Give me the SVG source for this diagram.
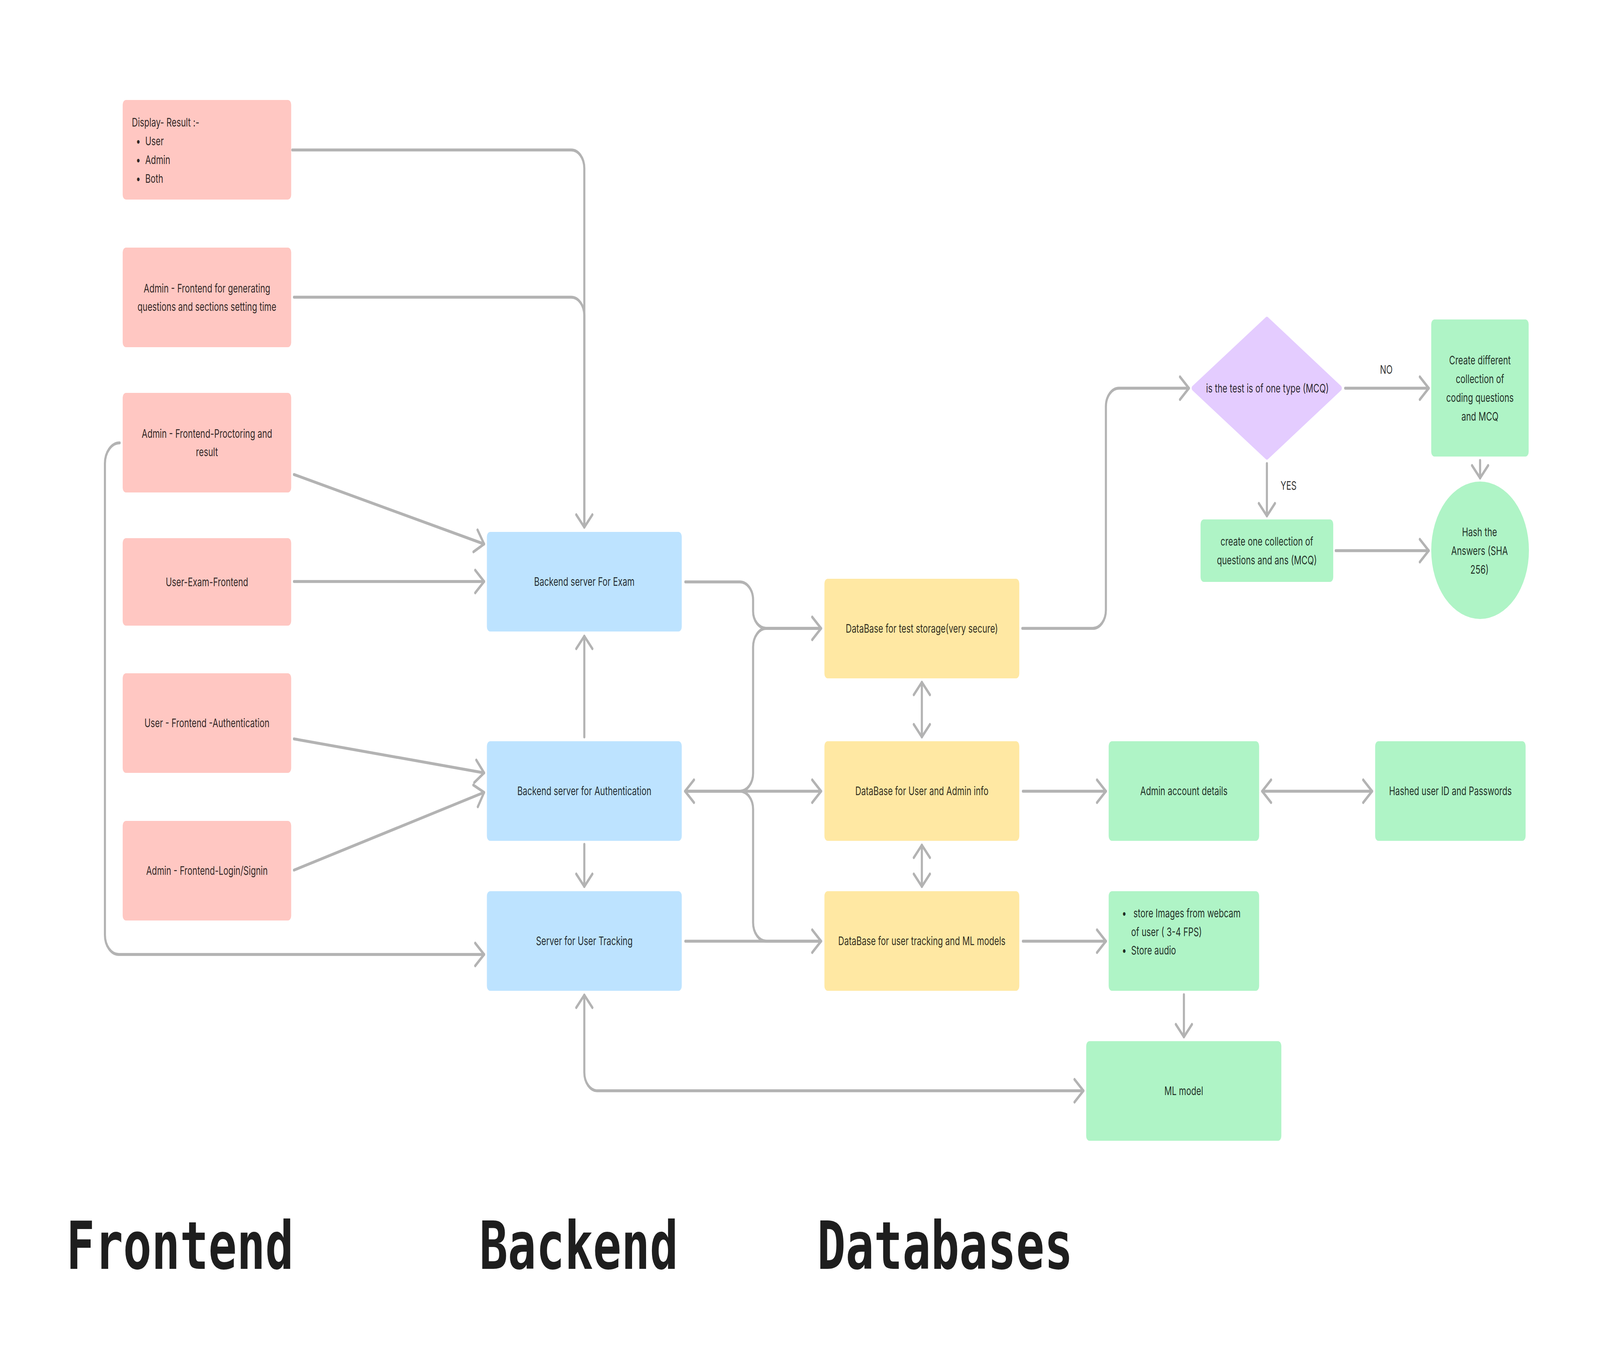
<svg xmlns="http://www.w3.org/2000/svg" width="5764" height="3508" viewBox="0 0 5764 3508" preserveAspectRatio="none" style="width:100vw;height:100vh;display:block">
<style>
.fe{fill:#FFC7C2}
.be{fill:#BDE3FF}
.db{fill:#FFE8A3}
.gr{fill:#AFF4C6}
.vi{fill:#E4CCFF;stroke:#E4CCFF;stroke-width:14;stroke-linejoin:round}
.t{font-family:Inter,"Noto Sans","Liberation Sans",sans-serif;font-size:30px;fill:#000000;fill-opacity:0.82}
.c{text-anchor:middle}
.title{font-family:"DejaVu Sans Mono","Liberation Mono",monospace;font-weight:bold;font-size:170px;fill:#1E1E1E}
.ln{fill:none;stroke:#B3B3B3;stroke-width:7.5;stroke-linecap:round;stroke-linejoin:round}
</style>
<defs>
<marker id="ah" viewBox="-45 -40 55 80" refX="0" refY="0" markerWidth="55" markerHeight="80" markerUnits="userSpaceOnUse" orient="auto-start-reverse">
<path d="M-32,-29 L0,0 L-32,29" fill="none" stroke="#B3B3B3" stroke-width="7.5" stroke-linecap="round" stroke-linejoin="round"/>
</marker>
</defs>
<rect width="5764" height="3508" fill="#FFFFFF"/>

<g id="connectors" class="ln">
<path d="M1053,384 H2058 A47,47 0 0 1 2105,431 V1350" marker-end="url(#ah)"/>
<path d="M1059,761 H2058 A47,47 0 0 1 2105,808 V1340"/>
<path d="M1059,1215 L1744,1393" marker-end="url(#ah)"/>
<path d="M1059,1489 H1744" marker-end="url(#ah)"/>
<path d="M1059,1892 L1744,1979" marker-end="url(#ah)"/>
<path d="M1059,2228 L1744,2029" marker-end="url(#ah)"/>
<path d="M431,1134 A53,53 0 0 0 378,1187 V2394 A50,50 0 0 0 428,2444 H1744" marker-end="url(#ah)"/>
<path d="M2105,1887 V1629" marker-end="url(#ah)"/>
<path d="M2105,2162 V2270" marker-end="url(#ah)"/>
<path d="M3903,2793 H2152 A47,47 0 0 1 2105,2746 V2548" marker-start="url(#ah)" marker-end="url(#ah)"/>
<path d="M2469,1490 H2665 A48,46 0 0 1 2713,1536 V1565 A48,44 0 0 0 2761,1609 H2958" marker-end="url(#ah)"/>
<path d="M2469,2026 H2665 A48,46 0 0 0 2713,1980 V1657 A48,48 0 0 1 2761,1609 H2950"/>
<path d="M2468,2026 H2958" marker-start="url(#ah)" marker-end="url(#ah)"/>
<path d="M2469,2026 H2665 A48,46 0 0 1 2713,2072 V2362 A48,48 0 0 0 2761,2410 H2950"/>
<path d="M2469,2410 H2958" marker-end="url(#ah)"/>
<path d="M3321,1747 V1887" marker-start="url(#ah)" marker-end="url(#ah)"/>
<path d="M3321,2164 V2270" marker-start="url(#ah)" marker-end="url(#ah)"/>
<path d="M3683,1609 H3937 A47,47 0 0 0 3984,1562 V1041 A47,47 0 0 1 4031,994 H4283" marker-end="url(#ah)"/>
<path d="M4846,994 H5147" marker-end="url(#ah)"/>
<path d="M4564,1187 V1321" marker-end="url(#ah)"/>
<path d="M5332,1179 V1224" marker-end="url(#ah)"/>
<path d="M4812,1410 H5147" marker-end="url(#ah)"/>
<path d="M3685,2026 H3984" marker-end="url(#ah)"/>
<path d="M4547,2026 H4943" marker-start="url(#ah)" marker-end="url(#ah)"/>
<path d="M3685,2410 H3984" marker-end="url(#ah)"/>
<path d="M4265,2547 V2655" marker-end="url(#ah)"/>
</g>

<g id="label-no"><text class="t c" x="4994" y="957">NO</text></g>
<g id="label-yes"><text class="t c" x="4642" y="1254">YES</text></g>

<g id="fe-display">
<rect class="fe" x="442" y="256" width="607" height="255" rx="12"/>
<text class="t" x="475" y="324">Display- Result :-</text>
<text class="t c" x="498" y="372">•</text><text class="t" x="523" y="372">User</text>
<text class="t c" x="498" y="420">•</text><text class="t" x="523" y="420">Admin</text>
<text class="t c" x="498" y="468">•</text><text class="t" x="523" y="468">Both</text>
</g>
<g id="fe-generate">
<rect class="fe" x="442" y="634" width="607" height="255" rx="12"/>
<text class="t c" x="745.5" y="749">Admin - Frontend for generating</text>
<text class="t c" x="745.5" y="796">questions and sections setting time</text>
</g>
<g id="fe-proctoring">
<rect class="fe" x="442" y="1006" width="607" height="255" rx="12"/>
<text class="t c" x="745.5" y="1121">Admin - Frontend-Proctoring and</text>
<text class="t c" x="745.5" y="1168">result</text>
</g>
<g id="fe-user-exam">
<rect class="fe" x="442" y="1378" width="607" height="224" rx="12"/>
<text class="t c" x="745.5" y="1501">User-Exam-Frontend</text>
</g>
<g id="fe-user-auth">
<rect class="fe" x="442" y="1724" width="607" height="255" rx="12"/>
<text class="t c" x="745.5" y="1862">User - Frontend -Authentication</text>
</g>
<g id="fe-admin-login">
<rect class="fe" x="442" y="2102" width="607" height="255" rx="12"/>
<text class="t c" x="745.5" y="2240">Admin - Frontend-Login/Signin</text>
</g>

<g id="be-exam">
<rect class="be" x="1754" y="1362" width="702" height="255" rx="12"/>
<text class="t c" x="2105" y="1500">Backend server For Exam</text>
</g>
<g id="be-auth">
<rect class="be" x="1754" y="1898" width="702" height="255" rx="12"/>
<text class="t c" x="2105" y="2036">Backend server for Authentication</text>
</g>
<g id="be-tracking">
<rect class="be" x="1754" y="2282" width="702" height="255" rx="12"/>
<text class="t c" x="2105" y="2420">Server for User Tracking</text>
</g>

<g id="db-test">
<rect class="db" x="2970" y="1482" width="702" height="255" rx="12"/>
<text class="t c" x="3321" y="1620">DataBase for test storage(very secure)</text>
</g>
<g id="db-user">
<rect class="db" x="2970" y="1898" width="702" height="255" rx="12"/>
<text class="t c" x="3321" y="2036">DataBase for User and Admin info</text>
</g>
<g id="db-tracking">
<rect class="db" x="2970" y="2282" width="702" height="255" rx="12"/>
<text class="t c" x="3321" y="2420">DataBase for user tracking and ML models</text>
</g>

<g id="decision">
<polygon class="vi" points="4564,818 4827,994 4564,1170 4300,994"/>
<text class="t c" x="4566" y="1005">is the test is of one type (MCQ)</text>
</g>
<g id="create-different">
<rect class="gr" x="5156" y="818" width="351" height="351" rx="12"/>
<text class="t c" x="5331.5" y="933">Create different</text>
<text class="t c" x="5331.5" y="981">collection of</text>
<text class="t c" x="5331.5" y="1029">coding questions</text>
<text class="t c" x="5331.5" y="1077">and MCQ</text>
</g>
<g id="create-one">
<rect class="gr" x="4325" y="1330" width="478" height="160" rx="12"/>
<text class="t c" x="4564" y="1397">create one collection of</text>
<text class="t c" x="4564" y="1445">questions and ans (MCQ)</text>
</g>
<g id="hash-answers">
<circle class="gr" cx="5332" cy="1409" r="176"/>
<text class="t c" x="5330" y="1373">Hash the</text>
<text class="t c" x="5330" y="1421">Answers (SHA</text>
<text class="t c" x="5330" y="1469">256)</text>
</g>
<g id="admin-details">
<rect class="gr" x="3994" y="1898" width="542" height="255" rx="12"/>
<text class="t c" x="4265" y="2036">Admin account details</text>
</g>
<g id="hashed-ids">
<rect class="gr" x="4954" y="1898" width="542" height="255" rx="12"/>
<text class="t c" x="5225" y="2036">Hashed user ID and Passwords</text>
</g>
<g id="store-media">
<rect class="gr" x="3994" y="2282" width="542" height="255" rx="12"/>
<text class="t c" x="4050" y="2349">•</text><text class="t" x="4083" y="2349">store Images from webcam</text>
<text class="t" x="4075" y="2397">of user ( 3-4 FPS)</text>
<text class="t c" x="4050" y="2444">•</text><text class="t" x="4075" y="2444">Store audio</text>
</g>
<g id="ml-model">
<rect class="gr" x="3913" y="2666" width="703" height="255" rx="12"/>
<text class="t c" x="4264.5" y="2804">ML model</text>
</g>

<g id="titles">
<text class="title" x="239" y="3249">Frontend</text>
<text class="title" x="1727" y="3249">Backend</text>
<text class="title" x="2944" y="3249">Databases</text>
</g>
</svg>
